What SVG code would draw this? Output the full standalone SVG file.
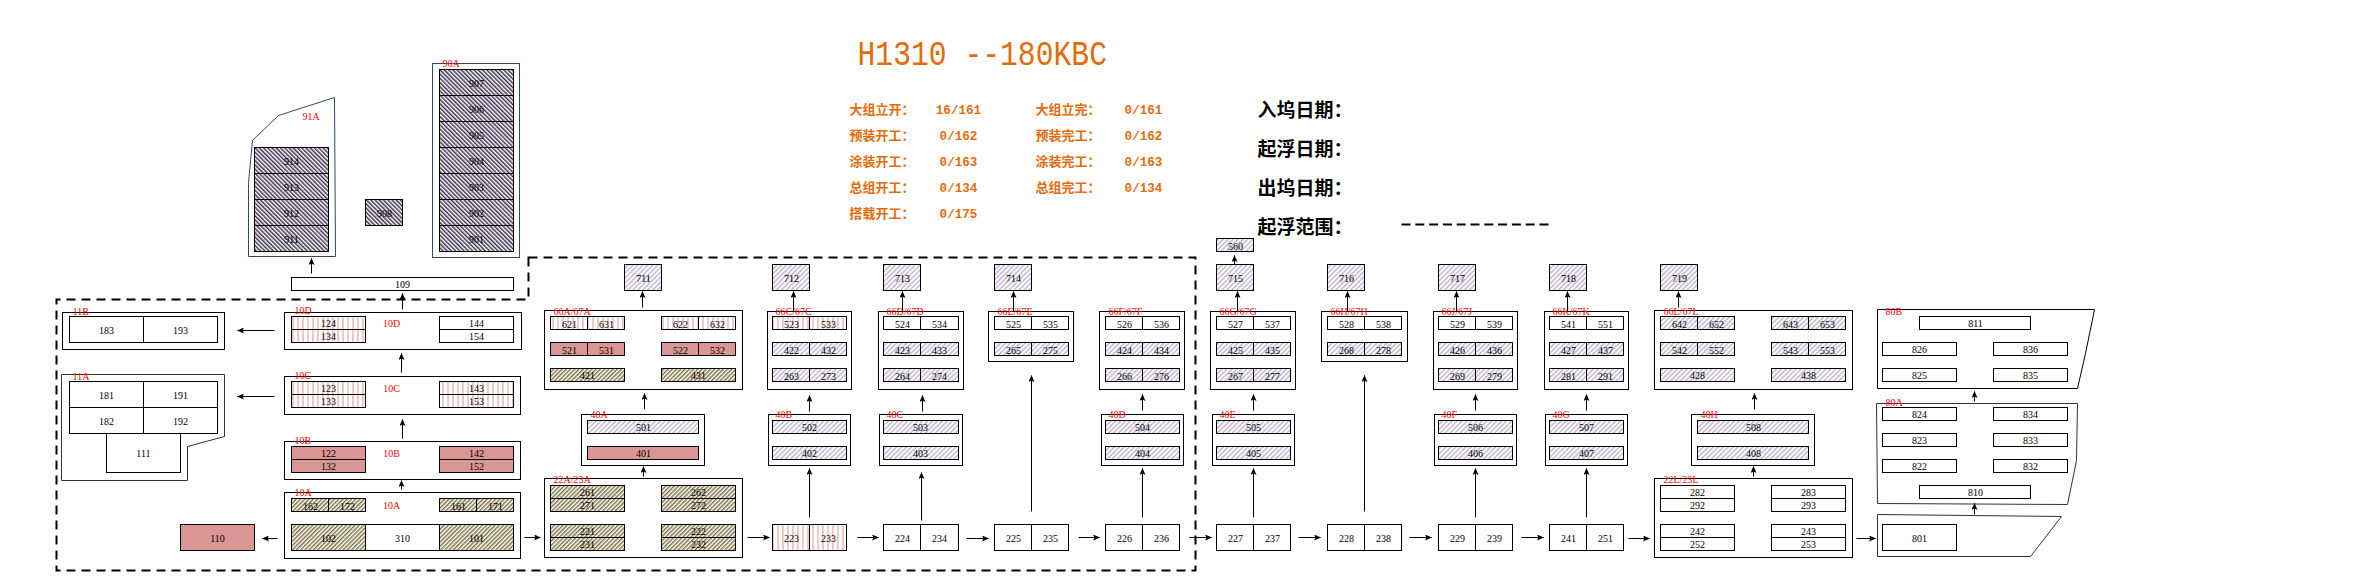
<svg xmlns="http://www.w3.org/2000/svg" width="2354" height="582" viewBox="0 0 2354 582">
<style>
rect,polygon{stroke:#000;stroke-width:1}
.w{fill:#fff}.s{fill:#da9694}.r{fill:url(#pr)}.o{fill:url(#po)}.l{fill:url(#pl)}.d{fill:url(#pd)}
.b{fill:#fff}
.n{fill:#fff;stroke:#2f4a68}
.g{fill:#fff;stroke:#333}
text{font-family:"Liberation Serif","Noto Sans CJK SC",serif}
.t{font-size:10px;text-anchor:middle;fill:#000}
.a{font-size:10px;fill:#f00}
.c{font-size:10px;fill:#f00;text-anchor:middle}
.q{font-size:13px;fill:#e36c0a;font-weight:bold}
.v{font-family:"Liberation Mono",monospace;font-size:12.6px;fill:#e36c0a;text-anchor:middle;font-weight:bold}
.ti{font-family:"Liberation Mono",monospace;font-size:29.7px;fill:#e36c0a}
.h{font-size:19px;fill:#000;font-weight:bold}
.e{fill:none;stroke:#000;stroke-width:1;marker-end:url(#ar)}
</style>
<defs>
<marker id="ar" markerWidth="7" markerHeight="6" refX="6.5" refY="3" orient="auto" markerUnits="userSpaceOnUse"><path d="M0,0 L7,3 L0,6 L1.5,3 Z" fill="#000"/></marker>
<pattern id="pr" width="5" height="5" patternUnits="userSpaceOnUse"><rect width="5" height="5" fill="#fff" style="stroke:none"/><path d="M2.5,0V5" stroke="#da9694" stroke-width="1"/></pattern>
<pattern id="po" width="3" height="3" patternUnits="userSpaceOnUse" patternTransform="rotate(45)"><rect width="3" height="3" fill="#fff" style="stroke:none"/><rect width="1.5" height="3" fill="#7f7347" style="stroke:none"/></pattern>
<pattern id="pl" width="3.5" height="3.5" patternUnits="userSpaceOnUse" patternTransform="rotate(45)"><rect width="3.5" height="3.5" fill="#fff" style="stroke:none"/><rect width="1.75" height="3.5" fill="#ccc0da" style="stroke:none"/></pattern>
<pattern id="pd" width="3" height="3" patternUnits="userSpaceOnUse" patternTransform="rotate(-45)"><rect width="3" height="3" fill="#fff" style="stroke:none"/><rect width="1.5" height="3" fill="#403152" style="stroke:none"/></pattern>
</defs>
<rect x="0" y="0" width="2354" height="582" fill="#fff" style="stroke:none"/>
<g transform="translate(.5 .5)">
<g id="header">
<text class="ti" transform="translate(857 64) scale(1 1.2)">H1310 --180KBC</text>
<text class="q" x="849" y="113">大组立开：</text><text class="v" x="958" y="113">16/161</text>
<text class="q" x="1035" y="113">大组立完：</text><text class="v" x="1143" y="113">0/161</text>
<text class="q" x="849" y="139">预装开工：</text><text class="v" x="958" y="139">0/162</text>
<text class="q" x="1035" y="139">预装完工：</text><text class="v" x="1143" y="139">0/162</text>
<text class="q" x="849" y="165">涂装开工：</text><text class="v" x="958" y="165">0/163</text>
<text class="q" x="1035" y="165">涂装完工：</text><text class="v" x="1143" y="165">0/163</text>
<text class="q" x="849" y="191">总组开工：</text><text class="v" x="958" y="191">0/134</text>
<text class="q" x="1035" y="191">总组完工：</text><text class="v" x="1143" y="191">0/134</text>
<text class="q" x="849" y="217">搭载开工：</text><text class="v" x="958" y="217">0/175</text>
<text class="h" x="1257" y="116">入坞日期：</text>
<text class="h" x="1257" y="155">起浮日期：</text>
<text class="h" x="1257" y="194">出坞日期：</text>
<text class="h" x="1257" y="233">起浮范围：</text>
<path d="M1401,224H1549" stroke="#000" stroke-width="2" stroke-dasharray="9 4.8" fill="none"/>
</g>
<path id="dashed-zone" d="M528,257H1195V570H56V299H528Z" fill="none" stroke="#000" stroke-width="2" stroke-dasharray="9 6"/>
<g id="n91A">
<polygon class="n" points="248,256 248,182 252,140 278,115 334,97 335,256"/>
<text class="a" x="302" y="119">91A</text>
<rect class="d" x="254" y="147" width="74" height="26"/><text class="t" x="291" y="164">914</text>
<rect class="d" x="254" y="173" width="74" height="26"/><text class="t" x="291" y="190">913</text>
<rect class="d" x="254" y="199" width="74" height="26"/><text class="t" x="291" y="216">912</text>
<rect class="d" x="254" y="225" width="74" height="26"/><text class="t" x="291" y="242">911</text>
</g>
<g id="n908"><rect class="d" x="365" y="199" width="37" height="26"/><text class="t" x="384" y="216">908</text></g>
<g id="n90A">
<rect class="n" x="432" y="63" width="87" height="194"/>
<text class="a" x="442" y="66">90A</text>
<rect class="d" x="439" y="69" width="74" height="26"/><text class="t" x="476" y="86">907</text>
<rect class="d" x="439" y="95" width="74" height="26"/><text class="t" x="476" y="112">906</text>
<rect class="d" x="439" y="121" width="74" height="26"/><text class="t" x="476" y="138">905</text>
<rect class="d" x="439" y="147" width="74" height="26"/><text class="t" x="476" y="164">904</text>
<rect class="d" x="439" y="173" width="74" height="26"/><text class="t" x="476" y="190">903</text>
<rect class="d" x="439" y="199" width="74" height="26"/><text class="t" x="476" y="216">902</text>
<rect class="d" x="439" y="225" width="74" height="26"/><text class="t" x="476" y="242">901</text>
</g>
<g id="n109"><rect class="w" x="291" y="277" width="222" height="13"/><text class="t" x="402" y="287">109</text></g>
<g id="n11B">
<rect class="b" x="62" y="312" width="162" height="37"/><text class="a" x="72" y="314">11B</text>
<rect class="w" x="69" y="316" width="74" height="26"/><text class="t" x="106" y="333">183</text>
<rect class="w" x="143" y="316" width="74" height="26"/><text class="t" x="180" y="333">193</text>
</g>
<g id="n11A">
<polygon class="g" points="61,374 224,374 224,436 187,446 187,480 61,480"/><text class="a" x="72" y="379">11A</text>
<rect class="w" x="69" y="381" width="74" height="26"/><text class="t" x="106" y="398">181</text>
<rect class="w" x="143" y="381" width="74" height="26"/><text class="t" x="180" y="398">191</text>
<rect class="w" x="69" y="407" width="74" height="26"/><text class="t" x="106" y="424">182</text>
<rect class="w" x="143" y="407" width="74" height="26"/><text class="t" x="180" y="424">192</text>
<rect class="w" x="106" y="433" width="74" height="39"/><text class="t" x="143" y="456">111</text>
</g>
<g id="n10D">
<rect class="b" x="284" y="312" width="237" height="37"/><text class="a" x="294" y="313">10D</text><text class="c" x="391" y="326">10D</text>
<rect class="r" x="291" y="316" width="74" height="13"/><text class="t" x="328" y="326">124</text>
<rect class="r" x="291" y="329" width="74" height="13"/><text class="t" x="328" y="339">134</text>
<rect class="w" x="439" y="316" width="74" height="13"/><text class="t" x="476" y="326">144</text>
<rect class="w" x="439" y="329" width="74" height="13"/><text class="t" x="476" y="339">154</text>
</g>
<g id="n10C">
<rect class="b" x="284" y="376" width="236" height="38"/><text class="a" x="294" y="378">10C</text><text class="c" x="391" y="391">10C</text>
<rect class="r" x="291" y="381" width="74" height="13"/><text class="t" x="328" y="391">123</text>
<rect class="r" x="291" y="394" width="74" height="13"/><text class="t" x="328" y="404">133</text>
<rect class="r" x="439" y="381" width="74" height="13"/><text class="t" x="476" y="391">143</text>
<rect class="r" x="439" y="394" width="74" height="13"/><text class="t" x="476" y="404">153</text>
</g>
<g id="n10B">
<rect class="b" x="284" y="441" width="236" height="38"/><text class="a" x="294" y="443">10B</text><text class="c" x="391" y="456">10B</text>
<rect class="s" x="291" y="446" width="74" height="13"/><text class="t" x="328" y="456">122</text>
<rect class="s" x="291" y="459" width="74" height="13"/><text class="t" x="328" y="469">132</text>
<rect class="s" x="439" y="446" width="74" height="13"/><text class="t" x="476" y="456">142</text>
<rect class="s" x="439" y="459" width="74" height="13"/><text class="t" x="476" y="469">152</text>
</g>
<g id="n10A">
<rect class="b" x="284" y="492" width="236" height="66"/><text class="a" x="294" y="495">10A</text><text class="c" x="391" y="508">10A</text>
<rect class="o" x="291" y="498" width="37" height="13"/><text class="t" x="310" y="509">162</text>
<rect class="o" x="328" y="498" width="37" height="13"/><text class="t" x="347" y="509">172</text>
<rect class="o" x="439" y="498" width="37" height="13"/><text class="t" x="458" y="509">161</text>
<rect class="o" x="476" y="498" width="37" height="13"/><text class="t" x="495" y="509">171</text>
<rect class="o" x="291" y="524" width="74" height="26"/><text class="t" x="328" y="541">102</text>
<rect class="w" x="365" y="524" width="74" height="26"/><text class="t" x="402" y="541">310</text>
<rect class="o" x="439" y="524" width="74" height="26"/><text class="t" x="476" y="541">101</text>
</g>
<g id="n110"><rect class="s" x="180" y="524" width="74" height="26"/><text class="t" x="217" y="541">110</text></g>
<g id="n22A">
<rect class="b" x="544" y="478" width="198" height="79"/><text class="a" x="553" y="482">22A/23A</text>
<rect class="o" x="550" y="485" width="74" height="13"/><text class="t" x="587" y="495">261</text>
<rect class="o" x="550" y="498" width="74" height="13"/><text class="t" x="587" y="508">271</text>
<rect class="o" x="661" y="485" width="74" height="13"/><text class="t" x="698" y="495">262</text>
<rect class="o" x="661" y="498" width="74" height="13"/><text class="t" x="698" y="508">272</text>
<rect class="o" x="550" y="524" width="74" height="13"/><text class="t" x="587" y="534">221</text>
<rect class="o" x="550" y="537" width="74" height="13"/><text class="t" x="587" y="547">231</text>
<rect class="o" x="661" y="524" width="74" height="13"/><text class="t" x="698" y="534">222</text>
<rect class="o" x="661" y="537" width="74" height="13"/><text class="t" x="698" y="547">232</text>
</g>
<g id="n40A">
<rect class="b" x="581" y="414" width="123" height="51"/><text class="a" x="590" y="417">40A</text>
<rect class="l" x="587" y="420" width="111" height="13"/><text class="t" x="643" y="430">501</text>
<rect class="s" x="587" y="446" width="111" height="13"/><text class="t" x="643" y="456">401</text>
</g>
<g id="n66A">
<rect class="b" x="544" y="310" width="198" height="79"/><text class="a" x="553" y="314">66A/67A</text>
<rect class="r" x="550" y="316" width="37" height="13"/><text class="t" x="569" y="327">621</text>
<rect class="r" x="587" y="316" width="37" height="13"/><text class="t" x="606" y="327">631</text>
<rect class="r" x="661" y="316" width="37" height="13"/><text class="t" x="680" y="327">622</text>
<rect class="r" x="698" y="316" width="37" height="13"/><text class="t" x="717" y="327">632</text>
<rect class="s" x="550" y="342" width="37" height="13"/><text class="t" x="569" y="353">521</text>
<rect class="s" x="587" y="342" width="37" height="13"/><text class="t" x="606" y="353">531</text>
<rect class="s" x="661" y="342" width="37" height="13"/><text class="t" x="680" y="353">522</text>
<rect class="s" x="698" y="342" width="37" height="13"/><text class="t" x="717" y="353">532</text>
<rect class="o" x="550" y="368" width="74" height="13"/><text class="t" x="587" y="378">421</text>
<rect class="o" x="661" y="368" width="74" height="13"/><text class="t" x="698" y="378">431</text>
</g>
<g id="n711"><rect class="l" x="624" y="264" width="37" height="26"/><text class="t" x="643" y="281">711</text></g>
<g id="n223">
<rect class="r" x="772" y="524" width="37" height="26"/><text class="t" x="791" y="541">223</text>
<rect class="r" x="809" y="524" width="37" height="26"/><text class="t" x="828" y="541">233</text>
</g>
<g id="n40B">
<rect class="b" x="768" y="414" width="82" height="51"/><text class="a" x="775" y="417">40B</text>
<rect class="l" x="772" y="420" width="74" height="13"/><text class="t" x="809" y="430">502</text>
<rect class="l" x="772" y="446" width="74" height="13"/><text class="t" x="809" y="456">402</text>
</g>
<g id="n66C">
<rect class="b" x="767" y="311" width="84" height="78"/><text class="a" x="775" y="314">66C/67C</text>
<rect class="r" x="772" y="316" width="37" height="13"/><text class="t" x="791" y="327">523</text>
<rect class="r" x="809" y="316" width="37" height="13"/><text class="t" x="828" y="327">533</text>
<rect class="l" x="772" y="342" width="37" height="13"/><text class="t" x="791" y="353">422</text>
<rect class="l" x="809" y="342" width="37" height="13"/><text class="t" x="828" y="353">432</text>
<rect class="l" x="772" y="368" width="37" height="13"/><text class="t" x="791" y="379">263</text>
<rect class="l" x="809" y="368" width="37" height="13"/><text class="t" x="828" y="379">273</text>
</g>
<g id="n712"><rect class="l" x="772" y="264" width="37" height="26"/><text class="t" x="791" y="281">712</text></g>
<g id="n224">
<rect class="w" x="883" y="524" width="37" height="26"/><text class="t" x="902" y="541">224</text>
<rect class="w" x="920" y="524" width="38" height="26"/><text class="t" x="939" y="541">234</text>
</g>
<g id="n40C">
<rect class="b" x="879" y="414" width="83" height="51"/><text class="a" x="886" y="417">40C</text>
<rect class="l" x="883" y="420" width="75" height="13"/><text class="t" x="920" y="430">503</text>
<rect class="l" x="883" y="446" width="75" height="13"/><text class="t" x="920" y="456">403</text>
</g>
<g id="n66D">
<rect class="b" x="878" y="311" width="85" height="78"/><text class="a" x="886" y="314">66D/67D</text>
<rect class="w" x="883" y="316" width="37" height="13"/><text class="t" x="902" y="327">524</text>
<rect class="w" x="920" y="316" width="38" height="13"/><text class="t" x="939" y="327">534</text>
<rect class="l" x="883" y="342" width="37" height="13"/><text class="t" x="902" y="353">423</text>
<rect class="l" x="920" y="342" width="38" height="13"/><text class="t" x="939" y="353">433</text>
<rect class="l" x="883" y="368" width="37" height="13"/><text class="t" x="902" y="379">264</text>
<rect class="l" x="920" y="368" width="38" height="13"/><text class="t" x="939" y="379">274</text>
</g>
<g id="n713"><rect class="l" x="883" y="264" width="37" height="26"/><text class="t" x="902" y="281">713</text></g>
<g id="n225">
<rect class="w" x="994" y="524" width="37" height="26"/><text class="t" x="1013" y="541">225</text>
<rect class="w" x="1031" y="524" width="37" height="26"/><text class="t" x="1050" y="541">235</text>
</g>
<g id="n66E">
<rect class="b" x="988" y="311" width="85" height="50"/><text class="a" x="997" y="314">66E/67E</text>
<rect class="w" x="994" y="316" width="37" height="13"/><text class="t" x="1013" y="327">525</text>
<rect class="w" x="1031" y="316" width="37" height="13"/><text class="t" x="1050" y="327">535</text>
<rect class="l" x="994" y="342" width="37" height="13"/><text class="t" x="1013" y="353">265</text>
<rect class="l" x="1031" y="342" width="37" height="13"/><text class="t" x="1050" y="353">275</text>
</g>
<g id="n714"><rect class="l" x="994" y="264" width="37" height="26"/><text class="t" x="1013" y="281">714</text></g>
<g id="n226">
<rect class="w" x="1105" y="524" width="37" height="26"/><text class="t" x="1124" y="541">226</text>
<rect class="w" x="1142" y="524" width="37" height="26"/><text class="t" x="1161" y="541">236</text>
</g>
<g id="n40D">
<rect class="b" x="1101" y="414" width="82" height="51"/><text class="a" x="1108" y="417">40D</text>
<rect class="l" x="1105" y="420" width="74" height="13"/><text class="t" x="1142" y="430">504</text>
<rect class="l" x="1105" y="446" width="74" height="13"/><text class="t" x="1142" y="456">404</text>
</g>
<g id="n66F">
<rect class="b" x="1099" y="311" width="85" height="78"/><text class="a" x="1108" y="314">66F/67F</text>
<rect class="w" x="1105" y="316" width="37" height="13"/><text class="t" x="1124" y="327">526</text>
<rect class="w" x="1142" y="316" width="37" height="13"/><text class="t" x="1161" y="327">536</text>
<rect class="l" x="1105" y="342" width="37" height="13"/><text class="t" x="1124" y="353">424</text>
<rect class="l" x="1142" y="342" width="37" height="13"/><text class="t" x="1161" y="353">434</text>
<rect class="l" x="1105" y="368" width="37" height="13"/><text class="t" x="1124" y="379">266</text>
<rect class="l" x="1142" y="368" width="37" height="13"/><text class="t" x="1161" y="379">276</text>
</g>
<g id="n227">
<rect class="w" x="1216" y="524" width="37" height="26"/><text class="t" x="1235" y="541">227</text>
<rect class="w" x="1253" y="524" width="37" height="26"/><text class="t" x="1272" y="541">237</text>
</g>
<g id="n40E">
<rect class="b" x="1212" y="414" width="82" height="51"/><text class="a" x="1219" y="417">40E</text>
<rect class="l" x="1216" y="420" width="74" height="13"/><text class="t" x="1253" y="430">505</text>
<rect class="l" x="1216" y="446" width="74" height="13"/><text class="t" x="1253" y="456">405</text>
</g>
<g id="n66G">
<rect class="b" x="1210" y="311" width="85" height="78"/><text class="a" x="1219" y="314">66G/67G</text>
<rect class="w" x="1216" y="316" width="37" height="13"/><text class="t" x="1235" y="327">527</text>
<rect class="w" x="1253" y="316" width="37" height="13"/><text class="t" x="1272" y="327">537</text>
<rect class="l" x="1216" y="342" width="37" height="13"/><text class="t" x="1235" y="353">425</text>
<rect class="l" x="1253" y="342" width="37" height="13"/><text class="t" x="1272" y="353">435</text>
<rect class="l" x="1216" y="368" width="37" height="13"/><text class="t" x="1235" y="379">267</text>
<rect class="l" x="1253" y="368" width="37" height="13"/><text class="t" x="1272" y="379">277</text>
</g>
<g id="n715"><rect class="l" x="1216" y="264" width="37" height="26"/><text class="t" x="1235" y="281">715</text></g>
<g id="n560"><rect class="l" x="1216" y="238" width="37" height="13"/><text class="t" x="1235" y="249">560</text></g>
<g id="n228">
<rect class="w" x="1327" y="524" width="37" height="26"/><text class="t" x="1346" y="541">228</text>
<rect class="w" x="1364" y="524" width="37" height="26"/><text class="t" x="1383" y="541">238</text>
</g>
<g id="n66H">
<rect class="b" x="1321" y="311" width="86" height="50"/><text class="a" x="1330" y="314">66H/67H</text>
<rect class="w" x="1327" y="316" width="37" height="13"/><text class="t" x="1346" y="327">528</text>
<rect class="w" x="1364" y="316" width="37" height="13"/><text class="t" x="1383" y="327">538</text>
<rect class="l" x="1327" y="342" width="37" height="13"/><text class="t" x="1346" y="353">268</text>
<rect class="l" x="1364" y="342" width="37" height="13"/><text class="t" x="1383" y="353">278</text>
</g>
<g id="n716"><rect class="l" x="1327" y="264" width="37" height="26"/><text class="t" x="1346" y="281">716</text></g>
<g id="n229">
<rect class="w" x="1438" y="524" width="37" height="26"/><text class="t" x="1457" y="541">229</text>
<rect class="w" x="1475" y="524" width="37" height="26"/><text class="t" x="1494" y="541">239</text>
</g>
<g id="n40F">
<rect class="b" x="1434" y="414" width="82" height="51"/><text class="a" x="1441" y="417">40F</text>
<rect class="l" x="1438" y="420" width="74" height="13"/><text class="t" x="1475" y="430">506</text>
<rect class="l" x="1438" y="446" width="74" height="13"/><text class="t" x="1475" y="456">406</text>
</g>
<g id="n66J">
<rect class="b" x="1433" y="311" width="84" height="78"/><text class="a" x="1441" y="314">66J/67J</text>
<rect class="w" x="1438" y="316" width="37" height="13"/><text class="t" x="1457" y="327">529</text>
<rect class="w" x="1475" y="316" width="37" height="13"/><text class="t" x="1494" y="327">539</text>
<rect class="l" x="1438" y="342" width="37" height="13"/><text class="t" x="1457" y="353">426</text>
<rect class="l" x="1475" y="342" width="37" height="13"/><text class="t" x="1494" y="353">436</text>
<rect class="l" x="1438" y="368" width="37" height="13"/><text class="t" x="1457" y="379">269</text>
<rect class="l" x="1475" y="368" width="37" height="13"/><text class="t" x="1494" y="379">279</text>
</g>
<g id="n717"><rect class="l" x="1438" y="264" width="37" height="26"/><text class="t" x="1457" y="281">717</text></g>
<g id="n241">
<rect class="w" x="1549" y="524" width="37" height="26"/><text class="t" x="1568" y="541">241</text>
<rect class="w" x="1586" y="524" width="37" height="26"/><text class="t" x="1605" y="541">251</text>
</g>
<g id="n40G">
<rect class="b" x="1545" y="414" width="82" height="51"/><text class="a" x="1552" y="417">40G</text>
<rect class="l" x="1549" y="420" width="74" height="13"/><text class="t" x="1586" y="430">507</text>
<rect class="l" x="1549" y="446" width="74" height="13"/><text class="t" x="1586" y="456">407</text>
</g>
<g id="n66K">
<rect class="b" x="1544" y="311" width="84" height="78"/><text class="a" x="1552" y="314">66K/67K</text>
<rect class="w" x="1549" y="316" width="37" height="13"/><text class="t" x="1568" y="327">541</text>
<rect class="w" x="1586" y="316" width="37" height="13"/><text class="t" x="1605" y="327">551</text>
<rect class="l" x="1549" y="342" width="37" height="13"/><text class="t" x="1568" y="353">427</text>
<rect class="l" x="1586" y="342" width="37" height="13"/><text class="t" x="1605" y="353">437</text>
<rect class="l" x="1549" y="368" width="37" height="13"/><text class="t" x="1568" y="379">281</text>
<rect class="l" x="1586" y="368" width="37" height="13"/><text class="t" x="1605" y="379">291</text>
</g>
<g id="n718"><rect class="l" x="1549" y="264" width="37" height="26"/><text class="t" x="1568" y="281">718</text></g>
<g id="n22L">
<rect class="b" x="1654" y="478" width="198" height="79"/><text class="a" x="1663" y="482">22L/23L</text>
<rect class="w" x="1660" y="485" width="74" height="13"/><text class="t" x="1697" y="495">282</text>
<rect class="w" x="1660" y="498" width="74" height="13"/><text class="t" x="1697" y="508">292</text>
<rect class="w" x="1771" y="485" width="74" height="13"/><text class="t" x="1808" y="495">283</text>
<rect class="w" x="1771" y="498" width="74" height="13"/><text class="t" x="1808" y="508">293</text>
<rect class="w" x="1660" y="524" width="74" height="13"/><text class="t" x="1697" y="534">242</text>
<rect class="w" x="1660" y="537" width="74" height="13"/><text class="t" x="1697" y="547">252</text>
<rect class="w" x="1771" y="524" width="74" height="13"/><text class="t" x="1808" y="534">243</text>
<rect class="w" x="1771" y="537" width="74" height="13"/><text class="t" x="1808" y="547">253</text>
</g>
<g id="n40H">
<rect class="b" x="1691" y="414" width="123" height="51"/><text class="a" x="1700" y="417">40H</text>
<rect class="l" x="1697" y="420" width="111" height="13"/><text class="t" x="1753" y="430">508</text>
<rect class="l" x="1697" y="446" width="111" height="13"/><text class="t" x="1753" y="456">408</text>
</g>
<g id="n66L">
<rect class="b" x="1654" y="310" width="198" height="79"/><text class="a" x="1663" y="314">66L/67L</text>
<rect class="l" x="1660" y="316" width="37" height="13"/><text class="t" x="1679" y="327">642</text>
<rect class="l" x="1697" y="316" width="37" height="13"/><text class="t" x="1716" y="327">652</text>
<rect class="l" x="1771" y="316" width="37" height="13"/><text class="t" x="1790" y="327">643</text>
<rect class="l" x="1808" y="316" width="37" height="13"/><text class="t" x="1827" y="327">653</text>
<rect class="l" x="1660" y="342" width="37" height="13"/><text class="t" x="1679" y="353">542</text>
<rect class="l" x="1697" y="342" width="37" height="13"/><text class="t" x="1716" y="353">552</text>
<rect class="l" x="1771" y="342" width="37" height="13"/><text class="t" x="1790" y="353">543</text>
<rect class="l" x="1808" y="342" width="37" height="13"/><text class="t" x="1827" y="353">553</text>
<rect class="l" x="1660" y="368" width="74" height="13"/><text class="t" x="1697" y="378">428</text>
<rect class="l" x="1771" y="368" width="74" height="13"/><text class="t" x="1808" y="378">438</text>
</g>
<g id="n719"><rect class="l" x="1660" y="264" width="37" height="26"/><text class="t" x="1679" y="281">719</text></g>
<g id="n80B">
<polygon class="b" points="1877,309 2094,309 2085,353 2077,388 1877,388"/><text class="a" x="1885" y="314">80B</text>
<rect class="w" x="1919" y="316" width="111" height="13"/><text class="t" x="1975" y="326">811</text>
<rect class="w" x="1882" y="342" width="74" height="13"/><text class="t" x="1919" y="352">826</text>
<rect class="w" x="1993" y="342" width="74" height="13"/><text class="t" x="2030" y="352">836</text>
<rect class="w" x="1882" y="368" width="74" height="13"/><text class="t" x="1919" y="378">825</text>
<rect class="w" x="1993" y="368" width="74" height="13"/><text class="t" x="2030" y="378">835</text>
</g>
<g id="n80A">
<polygon class="g" points="1876,403 2077,403 2076,460 2067,504 1877,503"/><text class="a" x="1885" y="405">80A</text>
<rect class="w" x="1882" y="407" width="74" height="13"/><text class="t" x="1919" y="417">824</text>
<rect class="w" x="1993" y="407" width="74" height="13"/><text class="t" x="2030" y="417">834</text>
<rect class="w" x="1882" y="433" width="74" height="13"/><text class="t" x="1919" y="443">823</text>
<rect class="w" x="1993" y="433" width="74" height="13"/><text class="t" x="2030" y="443">833</text>
<rect class="w" x="1882" y="459" width="74" height="13"/><text class="t" x="1919" y="469">822</text>
<rect class="w" x="1993" y="459" width="74" height="13"/><text class="t" x="2030" y="469">832</text>
<rect class="w" x="1919" y="485" width="111" height="13"/><text class="t" x="1975" y="495">810</text>
</g>
<g id="n801">
<polygon class="g" points="1877,514 2061,516 2030,556 1877,556"/>
<rect class="w" x="1882" y="524" width="74" height="26"/><text class="t" x="1919" y="541">801</text>
</g>
<g id="connectors">
<path class="e" d="M311,273V258"/>
<path class="e" d="M402,309V293"/>
<path class="e" d="M401,372V353"/>
<path class="e" d="M402,438V419"/>
<path class="e" d="M401,489V480"/>
<path class="e" d="M274,330H237"/>
<path class="e" d="M274,396H237"/>
<path class="e" d="M277,538H262"/>
<path class="e" d="M524,537H540"/>
<path class="e" d="M747,537H769"/>
<path class="e" d="M857,537H878"/>
<path class="e" d="M966,538H988"/>
<path class="e" d="M1078,537H1099"/>
<path class="e" d="M1189,537H1211"/>
<path class="e" d="M1298,537H1320"/>
<path class="e" d="M1409,537H1431"/>
<path class="e" d="M1521,537H1543"/>
<path class="e" d="M1628,538H1649"/>
<path class="e" d="M1856,538H1875"/>
<path class="e" d="M643,476V466"/>
<path class="e" d="M644,409V393"/>
<path class="e" d="M642,307V291"/>
<path class="e" d="M809,517V468"/>
<path class="e" d="M809,411V395"/>
<path class="e" d="M793,311V291"/>
<path class="e" d="M921,520V472"/>
<path class="e" d="M922,411V395"/>
<path class="e" d="M902,311V291"/>
<path class="e" d="M1031,511V375"/>
<path class="e" d="M1013,311V291"/>
<path class="e" d="M1142,517V468"/>
<path class="e" d="M1142,410V394"/>
<path class="e" d="M1253,517V468"/>
<path class="e" d="M1253,410V394"/>
<path class="e" d="M1237,311V291"/>
<path class="e" d="M1234,264V255"/>
<path class="e" d="M1364,511V375"/>
<path class="e" d="M1347,311V291"/>
<path class="e" d="M1475,517V468"/>
<path class="e" d="M1475,410V394"/>
<path class="e" d="M1456,311V291"/>
<path class="e" d="M1586,517V468"/>
<path class="e" d="M1586,410V394"/>
<path class="e" d="M1567,311V291"/>
<path class="e" d="M1753,476V466"/>
<path class="e" d="M1754,409V393"/>
<path class="e" d="M1678,307V291"/>
<path class="e" d="M1974,401V391"/>
<path class="e" d="M1974,514V503"/>
</g>
</g>
</svg>
